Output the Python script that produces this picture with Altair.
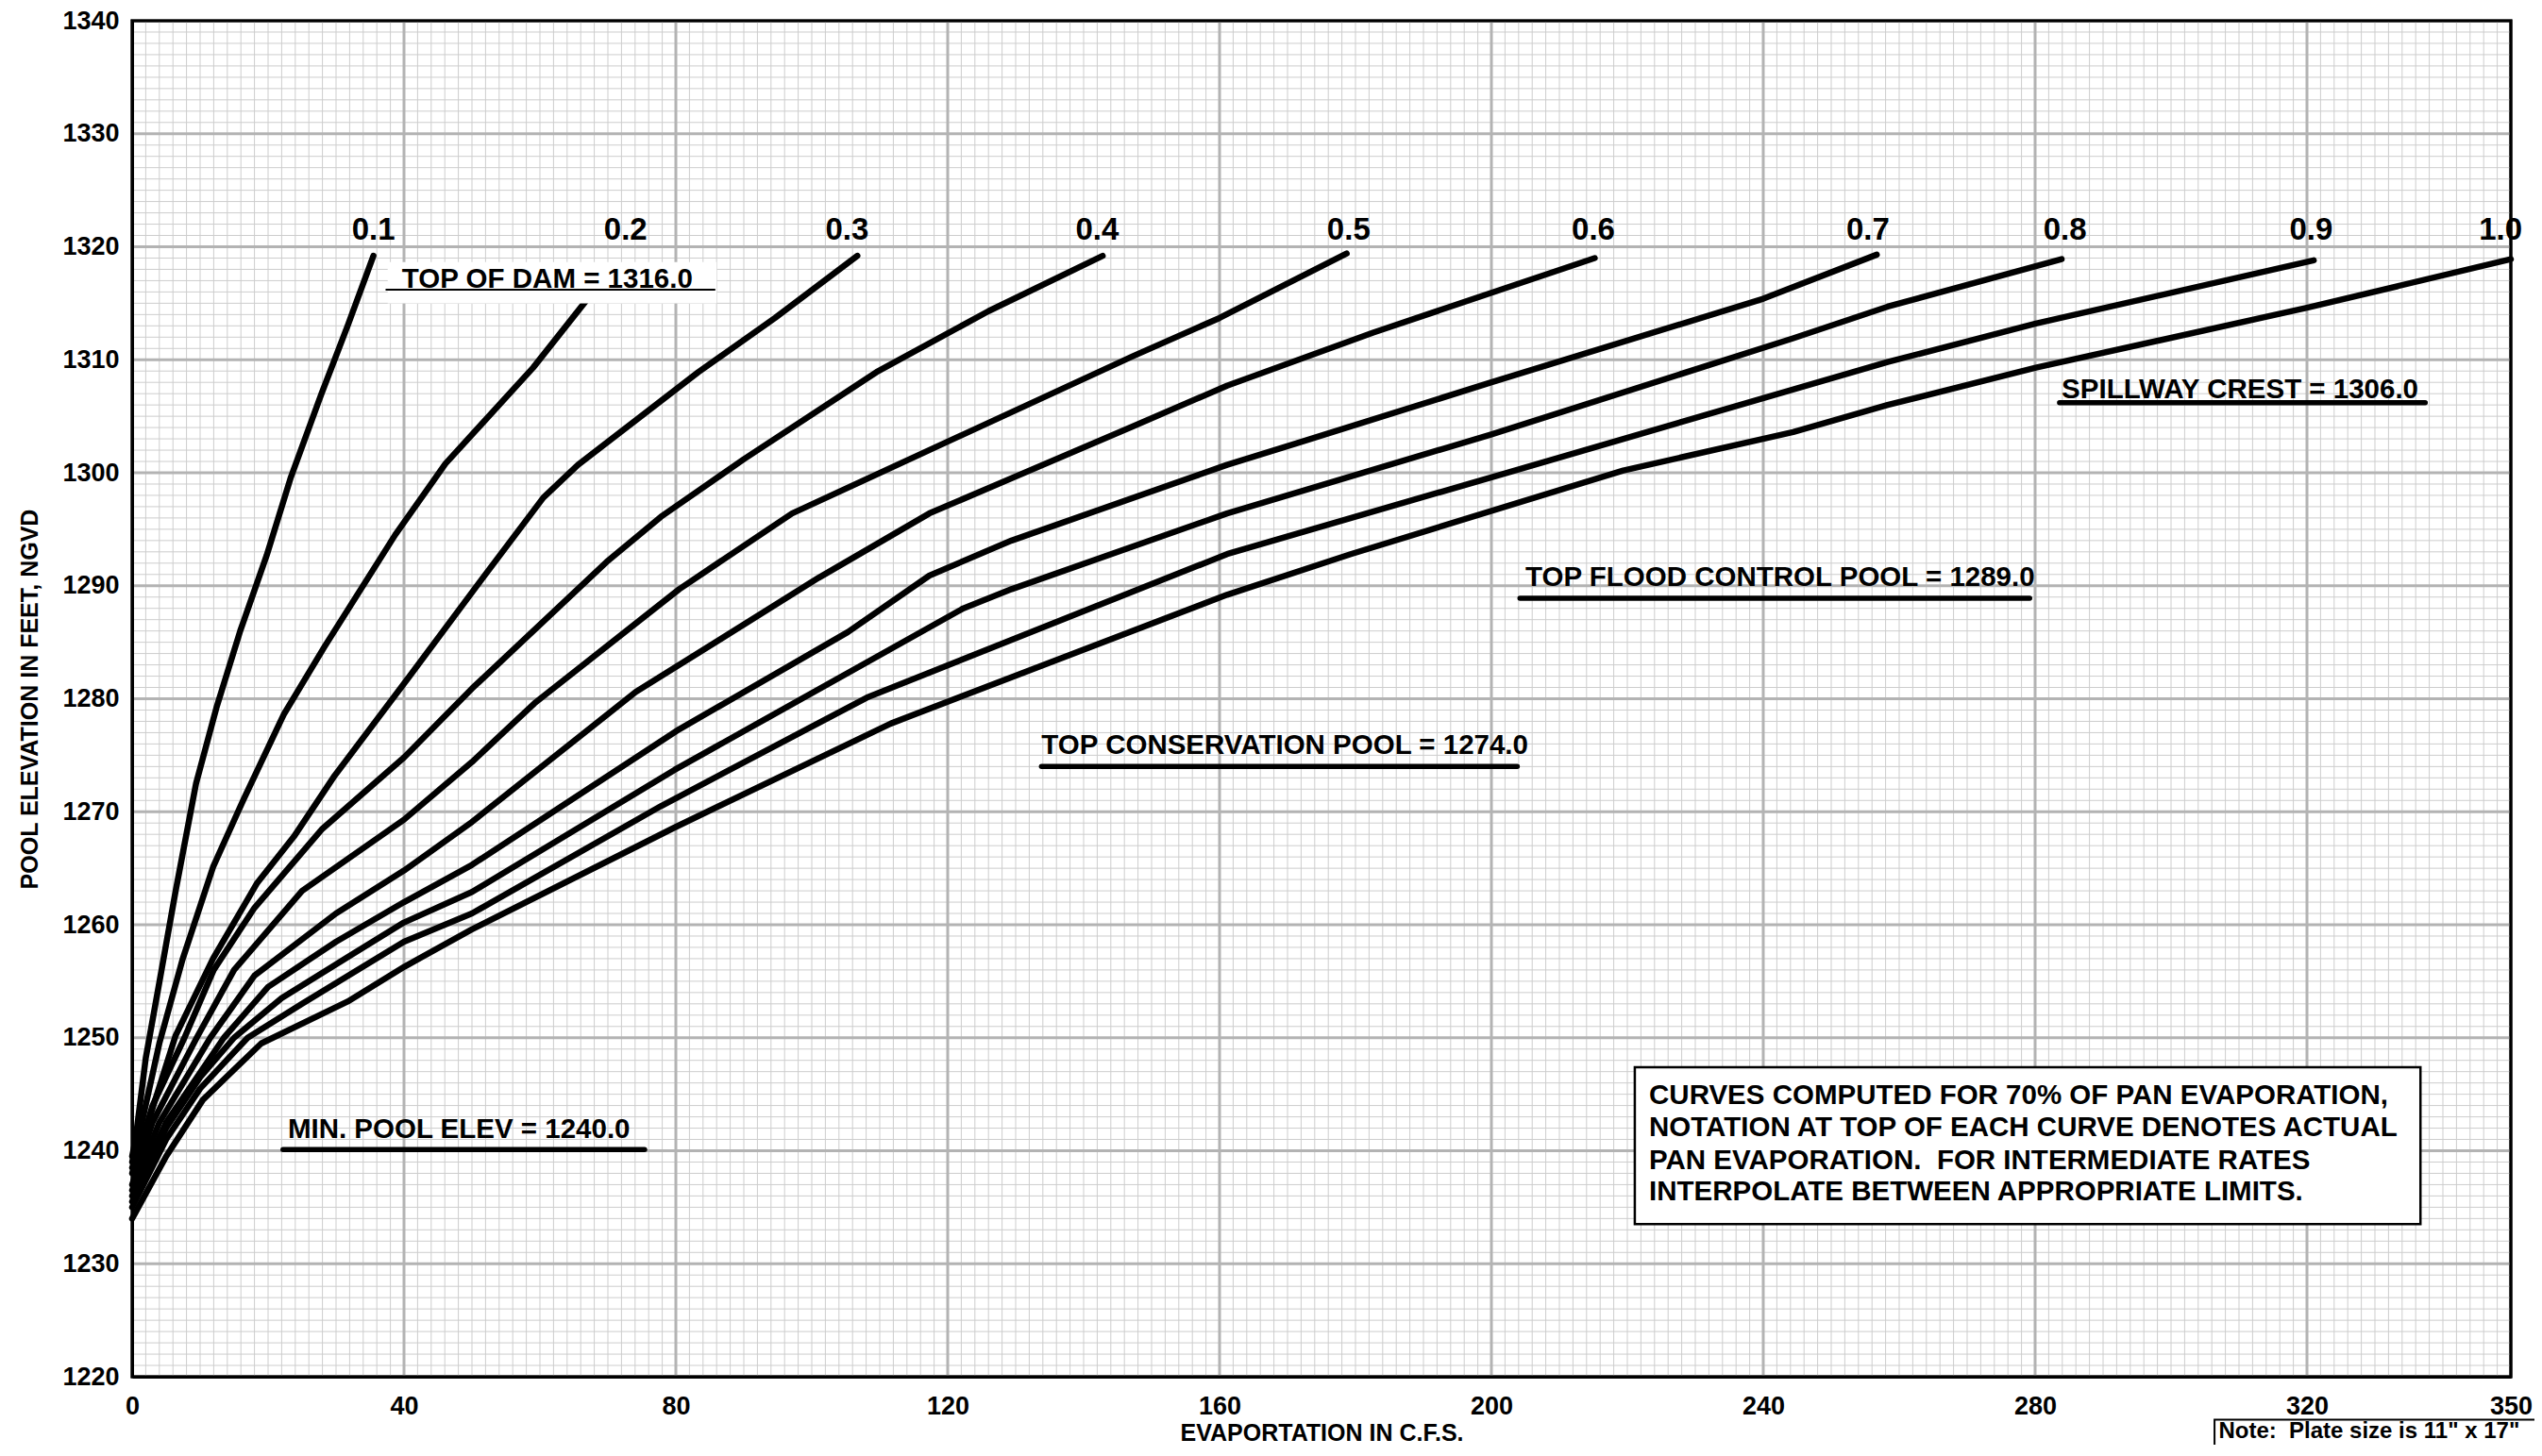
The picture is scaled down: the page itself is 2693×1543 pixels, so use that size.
import altair as alt
import pandas as pd
import numpy as np

FONT = "Liberation Sans"

# ---------------- curve data (x = evaporation cfs, y = pool elevation) ----------------
rates = ["0.1", "0.2", "0.3", "0.4", "0.5", "0.6", "0.7", "0.8", "0.9", "1.0"]

x01 = [0, 0.5, 2, 4, 6.4, 9.4, 12.4, 15.9, 19.8, 23.3, 27.8, 31.7, 35.5]
y01 = [1239.5, 1241, 1248.2, 1254.9, 1263, 1272.5, 1279.2, 1286, 1292.7, 1299.5, 1306.9, 1313, 1319.2]

x02 = [0, 1.5, 4, 7.4, 11.9, 16.4, 22.3, 28.3, 38.7, 46.1, 59, 66.5, 70.5]
y02 = [1239, 1242.7, 1249.5, 1256.9, 1265.1, 1271.1, 1278.6, 1284.6, 1294.5, 1300.8, 1309.3, 1315, 1318]

x03 = [0, 2.5, 6.4, 11.9, 18.4, 23.8, 29.8, 40.7, 51.6, 60.5, 65.6, 83.3, 94.6, 106.7]
y03 = [1238.5, 1242.8, 1250.2, 1257, 1263.7, 1267.8, 1273.2, 1281.9, 1290.7, 1297.8, 1300.7, 1308.9, 1313.7, 1319.2]

x04 = [0, 3, 7.7, 12, 18, 28, 40, 50, 69.8, 77.8, 90, 109.5, 126, 142.8]
y04 = [1238, 1244, 1250, 1256, 1261.5, 1268.5, 1274.8, 1280.9, 1292.1, 1296.1, 1301.2, 1308.9, 1314.3, 1319.2]

x05 = [0, 3, 9.5, 15, 25, 40, 50, 59.2, 80.5, 97.1, 119.8, 147.2, 160, 178.7]
y05 = [1237, 1242.5, 1250, 1256, 1263, 1269.3, 1274.4, 1279.6, 1289.7, 1296.4, 1302.7, 1310.3, 1313.7, 1319.4]

x06 = [0, 4, 11.5, 18, 30, 40, 50, 74.1, 101, 117.3, 147.2, 161.1, 182.6, 215.2]
y06 = [1236.5, 1242.5, 1250, 1255.5, 1261, 1264.8, 1269.1, 1280.6, 1290.7, 1296.4, 1304.1, 1307.7, 1312.4, 1319.0]

x07 = [0, 5, 13.5, 20, 30, 40, 50, 80.5, 105.3, 117.3, 129.4, 161.1, 171.3, 200, 240, 256.7]
y07 = [1236, 1242.5, 1250, 1254.5, 1258.5, 1262, 1265.3, 1277.3, 1285.9, 1290.9, 1294, 1300.7, 1302.6, 1308, 1315.4, 1319.3]

x08 = [0, 5, 10, 15, 22, 30, 40, 50, 79.8, 122.3, 129.4, 161.1, 200, 244.4, 258.3, 283.9]
y08 = [1235.5, 1242, 1246.5, 1250, 1253.5, 1256.5, 1260.2, 1262.9, 1273.7, 1288, 1289.7, 1296.4, 1303.4, 1311.9, 1314.7, 1318.9]

x09 = [0, 5, 10, 17, 25, 40, 50, 77.8, 108.1, 161.1, 200, 258.3, 280.1, 321]
y09 = [1235, 1241, 1245.5, 1250, 1253, 1258.5, 1261, 1270.5, 1280.1, 1292.8, 1299.6, 1309.8, 1313.2, 1318.8]

x10 = [0, 5, 10.4, 19, 31.7, 40.1, 50, 79.8, 111.6, 161.1, 179.3, 219.4, 244.4, 258.3, 280.1, 320, 350]
y10 = [1234, 1239.5, 1244.5, 1249.5, 1253.2, 1256.3, 1259.6, 1268.6, 1277.8, 1289.2, 1292.8, 1300.2, 1303.6, 1306.0, 1309.3, 1314.6, 1318.9]

curve_x = [x01, x02, x03, x04, x05, x06, x07, x08, x09, x10]
curve_y = [y01, y02, y03, y04, y05, y06, y07, y08, y09, y10]

# curve labels at top of each curve
label_x = [35.5, 72.6, 105.2, 142.0, 179.0, 215.0, 255.4, 284.4, 320.6, 348.5]
label_y = [1320.6] * 10

# axis ticks
x_ticks = [0, 40, 80, 120, 160, 200, 240, 280, 320, 350]
y_ticks = [1220, 1230, 1240, 1250, 1260, 1270, 1280, 1290, 1300, 1310, 1320, 1330, 1340]

# annotations (elevation lines)
ann_text = ["TOP OF DAM = 1316.0", "SPILLWAY CREST = 1306.0", "TOP FLOOD CONTROL POOL = 1289.0",
            "TOP CONSERVATION POOL = 1274.0", "MIN. POOL ELEV = 1240.0"]
ann_x = [39.7, 283.9, 205.0, 133.8, 22.9]
ann_y = [1316.4, 1306.6, 1290.0, 1275.1, 1241.1]
ul_x1 = [37.4, 283.6, 204.2, 133.8, 22.2]
ul_x2 = [85.7, 337.4, 279.2, 203.8, 75.4]
ul_y = [1316.2, 1306.2, 1288.9, 1274.0, 1240.1]
ul_w = [2, 5.5, 5.5, 5.5, 5.5]

box_lines = ["CURVES COMPUTED FOR 70% OF PAN EVAPORATION,",
             "NOTATION AT TOP OF EACH CURVE DENOTES ACTUAL",
             "PAN EVAPORATION.\u00a0 FOR INTERMEDIATE RATES",
             "INTERPOLATE BETWEEN APPROPRIATE LIMITS."]
box_line_y = [1244.1, 1241.3, 1238.4, 1235.6]

note_text = 'Note:\u00a0 Plate size is 11" x 17"'

# ---------------- build tables ----------------
rows = []
for r, xs, ys in zip(rates, curve_x, curve_y):
    for i, (a, b) in enumerate(zip(xs, ys)):
        rows.append({"rate": r, "i": i, "x": a, "y": b})
curves_df = pd.DataFrame(rows)

W, H = 2520, 1437

xs_ = alt.Scale(domain=[0, 350], nice=False, zero=False)
ys_ = alt.Scale(domain=[1220, 1340], nice=False, zero=False)

x_axis = alt.Axis(values=x_ticks, format="d", title="EVAPORTATION IN C.F.S.", grid=False,
                  ticks=False, domainColor="black", domainWidth=3, labelFont=FONT, labelFontSize=27,
                  labelFontWeight="bold", labelColor="black", labelPadding=18, labelOverlap=False,
                  labelFlush=False, titleFont=FONT, titleFontSize=25, titleFontWeight="bold",
                  titleColor="black", titleX=W / 2, titleY=59, titleAlign="center",
                  titleBaseline="middle", zindex=2)
y_axis = alt.Axis(values=y_ticks, format="d", title="POOL ELEVATION IN FEET, NGVD", grid=False,
                  ticks=False, domainColor="black", domainWidth=3, labelFont=FONT, labelFontSize=27,
                  labelFontWeight="bold", labelColor="black", labelPadding=14, labelOverlap=False,
                  labelFlush=False, titleFont=FONT, titleFontSize=25, titleFontWeight="bold",
                  titleColor="black", titleX=-109, titleY=H / 2, titleAngle=270, titleAlign="center",
                  titleBaseline="middle", zindex=2)


def X(f):
    return alt.X(f, scale=xs_, axis=x_axis)


def Y(f):
    return alt.Y(f, scale=ys_, axis=y_axis)


minor_v = pd.DataFrame({"gx": np.arange(0, 351, 2)})
minor_h = pd.DataFrame({"gy": np.arange(1220, 1341, 1)})
major_v = pd.DataFrame({"gx": [0, 40, 80, 120, 160, 200, 240, 280, 320]})
major_h = pd.DataFrame({"gy": y_ticks})

g1 = alt.Chart(minor_v).mark_rule(color="#cdcdcd", strokeWidth=1).encode(x=X("gx:Q"))
g2 = alt.Chart(minor_h).mark_rule(color="#cdcdcd", strokeWidth=1).encode(y=Y("gy:Q"))
g3 = alt.Chart(major_v).mark_rule(color="#b3b3b3", strokeWidth=3).encode(x=X("gx:Q"))
g4 = alt.Chart(major_h).mark_rule(color="#b3b3b3", strokeWidth=3).encode(y=Y("gy:Q"))

lines = alt.Chart(curves_df).mark_line(color="black", strokeWidth=6.5, strokeCap="round",
                                       strokeJoin="round").encode(
    x=X("x:Q"), y=Y("y:Q"), detail="rate:N", order="i:Q")

# white box behind "TOP OF DAM" label
dam_box = pd.DataFrame({"x1": [37.6], "x2": [86.0], "y1": [1315.0], "y2": [1318.65]})
wbox = alt.Chart(dam_box).mark_rect(color="white").encode(
    x=X("x1:Q"), x2="x2:Q", y=Y("y1:Q"), y2="y2:Q")

ul_df = pd.DataFrame({"x1": ul_x1, "x2": ul_x2, "y": ul_y, "w": ul_w})
underl = alt.Chart(ul_df).mark_rule(color="black", strokeCap="round").encode(
    x=X("x1:Q"), x2="x2:Q", y=Y("y:Q"),
    strokeWidth=alt.StrokeWidth("w:Q", scale=None, legend=None))

ann_df = pd.DataFrame({"t": ann_text, "x": ann_x, "y": ann_y})
ann = alt.Chart(ann_df).mark_text(align="left", baseline="alphabetic", font=FONT,
                                  fontWeight="bold", fontSize=29.5, color="black").encode(
    x=X("x:Q"), y=Y("y:Q"), text="t:N")

lab_df = pd.DataFrame({"t": rates, "x": label_x, "y": label_y})
labs = alt.Chart(lab_df).mark_text(align="center", baseline="alphabetic", font=FONT,
                                   fontWeight="bold", fontSize=33, color="black").encode(
    x=X("x:Q"), y=Y("y:Q"), text="t:N")

nb_df = pd.DataFrame({"x1": [221.1], "x2": [336.7], "y1": [1233.5], "y2": [1247.4]})
nbox = alt.Chart(nb_df).mark_rect(fill="white", stroke="black", strokeWidth=2.5).encode(
    x=X("x1:Q"), x2="x2:Q", y=Y("y1:Q"), y2="y2:Q")

bl_df = pd.DataFrame({"t": box_lines, "x": [223.2] * 4, "y": box_line_y})
btext = alt.Chart(bl_df).mark_text(align="left", baseline="alphabetic", font=FONT,
                                   fontWeight="bold", fontSize=29.5, color="black").encode(
    x=X("x:Q"), y=Y("y:Q"), text="t:N")

# plot frame drawn on top of grid
fr_df = pd.DataFrame({"x1": [0], "x2": [350], "y1": [1220], "y2": [1340]})
frame = alt.Chart(fr_df).mark_rect(fillOpacity=0, stroke="black", strokeWidth=3).encode(
    x=X("x1:Q"), x2="x2:Q", y=Y("y1:Q"), y2="y2:Q")

pl_df = pd.DataFrame({"x1": [306.4], "x2": [360.0], "y1": [1210.0], "y2": [1216.2]})
pbox = alt.Chart(pl_df).mark_rect(fill="white", stroke="black", strokeWidth=2).encode(
    x=X("x1:Q"), x2="x2:Q", y=Y("y1:Q"), y2="y2:Q")
pt_df = pd.DataFrame({"t": [note_text], "x": [307.0], "y": [1214.6]})
ptext = alt.Chart(pt_df).mark_text(align="left", baseline="alphabetic", font=FONT,
                                   fontWeight="bold", fontSize=24, color="black").encode(
    x=X("x:Q"), y=Y("y:Q"), text="t:N")

chart = alt.layer(g1, g2, g3, g4, lines, wbox, underl, ann, labs, nbox, btext, frame,
                  pbox, ptext).properties(
    width=W, height=H,
    padding={"left": 132, "top": 14, "right": 25, "bottom": 72},
    autosize=alt.AutoSizeParams(type="none"),
    background="white",
).configure_view(stroke="black", strokeWidth=3)

chart.save("out.html", embed_options={"renderer": "svg", "actions": False})
